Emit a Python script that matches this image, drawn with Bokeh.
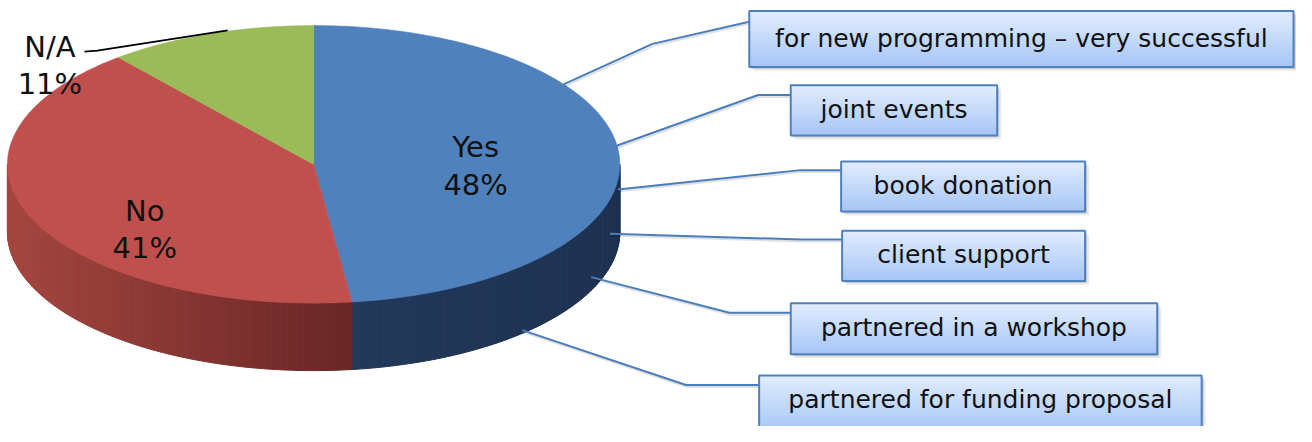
import numpy as np
from bokeh.plotting import figure
from bokeh.models import Range1d
from bokeh.embed import file_html
from bokeh.resources import INLINE
from bokeh.core.properties import value

# ---------------- data ----------------
labels = ["Yes", "No", "N/A"]
values = [48, 41, 11]
top_colors = ["#4F81BD", "#C0504D", "#9BBB59"]
side_left_colors = ["#23395B", "#A4463F", "#7E9A45"]
side_right_colors = ["#1E3150", "#692626", "#5E7534"]

callouts = [
    "for new programming \u2013 very successful",
    "joint events",
    "book donation",
    "client support",
    "partnered in a workshop",
    "partnered for funding proposal",
]

# ---------------- layout ----------------
CX, CY, A, B, DEPTH = 317, 170, 310, 144, 70
box_x0 = [758, 800, 851, 852, 800, 768]
box_x1 = [1309, 1009, 1098, 1098, 1171, 1216]
box_y0 = [11, 88, 167, 239, 314, 389]
box_y1 = [69, 140, 219, 291, 367, 447]
leaders = [
    [(570, 87), (660, 45), (758, 22)],
    [(623, 151), (767, 98), (800, 98)],
    [(625, 196), (810, 176), (851, 176)],
    [(617, 242), (810, 248), (852, 248)],
    [(598, 287), (738, 324), (800, 324)],
    [(528, 342), (694, 399), (768, 399)],
]
label_pos = {"Yes": (481, 152, 191), "No": (146, 218, 257), "N/A": (50, 48, 87)}
FONT = "DejaVu Sans"

p = figure(width=1296, height=426, x_range=Range1d(0, 1312), y_range=Range1d(442, 0),
           output_backend="svg", toolbar_location=None, min_border=0)
p.axis.visible = False
p.grid.visible = False
p.outline_line_color = None
p.background_fill_color = "white"


def pt(theta_deg, dy=0.0):
    t = np.radians(theta_deg)
    return CX + A * np.sin(t), CY - B * np.cos(t) + dy


def hex2rgb(h):
    h = h.lstrip("#")
    return np.array([int(h[i:i + 2], 16) for i in (0, 2, 4)], float)


def lerp(c0, c1, f):
    c = hex2rgb(c0) * (1 - f) + hex2rgb(c1) * f
    return "#%02x%02x%02x" % tuple(int(round(v)) for v in c)


# cumulative angles
total = float(sum(values))
starts, ends = [], []
acc = 0.0
for v in values:
    starts.append(acc)
    acc += v / total * 360.0
    ends.append(acc)

# ---- side walls (front half, 90..270 deg) ----
xs, ys, cols = [], [], []
for i in range(len(values)):
    a0, a1 = max(starts[i], 90.0), min(ends[i], 270.0)
    if a1 <= a0:
        continue
    n = max(int((a1 - a0) / 1.0), 2)
    th = np.linspace(a0, a1, n + 1)
    xa = [pt(t)[0] for t in th]
    xmin, xmax = min(xa), max(xa)
    for k in range(n):
        t0, t1 = th[k], th[k + 1]
        x0, y0 = pt(t0)
        x1, y1 = pt(t1)
        xs.append([x0, x1, x1, x0])
        ys.append([y0, y1, y1 + DEPTH, y0 + DEPTH])
        xm = 0.5 * (x0 + x1)
        f = (xm - xmin) / (xmax - xmin) if xmax > xmin else 0
        cols.append(lerp(side_left_colors[i], side_right_colors[i], f))
p.patches(xs, ys, fill_color=cols, line_color=cols, line_width=1)

# ---- top faces ----
txs, tys = [], []
for i in range(len(values)):
    th = np.linspace(starts[i], ends[i], 200)
    px = [CX] + [pt(t)[0] for t in th]
    py = [CY] + [pt(t)[1] for t in th]
    txs.append(px)
    tys.append(py)
p.patches(txs, tys, fill_color=top_colors, line_color=top_colors, line_width=0.5)

# ---- pie labels ----
for lab, v in zip(labels, values):
    x, yb1, yb2 = label_pos[lab]
    p.text(x=[x, x], y=[yb1, yb2], text=[lab, "%d%%" % v], text_align="center",
           text_baseline="alphabetic", text_font=value(FONT), text_font_size="29px",
           text_color="#111111")

# N/A leader
p.line([85, 98, 230], [53, 52, 31], line_color="black", line_width=1.8)

# ---- callout leader lines ----
for pts in leaders:
    lx = [q[0] for q in pts]
    ly = [q[1] for q in pts]
    p.line([x + 1 for x in lx], [y + 2 for y in ly], line_color="#000000", line_alpha=0.12, line_width=2)
    p.line(lx, ly, line_color="#4A7EBB", line_width=2)

# ---- callout boxes ----
bx0, bx1, by0, by1 = map(np.array, (box_x0, box_x1, box_y0, box_y1))
for off, al in ((4, 0.08), (2, 0.15)):
    p.quad(left=bx0 + off, right=bx1 + off, top=by0 + off, bottom=by1 + off,
           fill_color="black", fill_alpha=al, line_color=None)
NS = 14
ql, qr, qt, qb, qc = [], [], [], [], []
for i in range(len(callouts)):
    h = (by1[i] - by0[i]) / NS
    for k in range(NS):
        ql.append(bx0[i]); qr.append(bx1[i])
        qt.append(by0[i] + k * h); qb.append(by0[i] + (k + 1) * h + 0.6)
        qc.append(lerp("#E2EDFD", "#A6C5F6", (k + 0.5) / NS))
p.quad(left=ql, right=qr, top=qt, bottom=qb, fill_color=qc, line_color=None)
p.quad(left=bx0, right=bx1, top=by0, bottom=by1, fill_alpha=0,
       line_color="#4F81BD", line_width=2)
cy_text = [0.5 * (a + b) - 1 for a, b in zip(box_y0, box_y1[:5] + [box_y0[5] + 52])]
p.text(x=list((bx0 + bx1) / 2), y=cy_text, text=callouts, text_align="center",
       text_baseline="middle", text_font=value(FONT), text_font_size="25px",
       text_color="#111111")

open("out.html", "w").write(file_html(p, INLINE))
